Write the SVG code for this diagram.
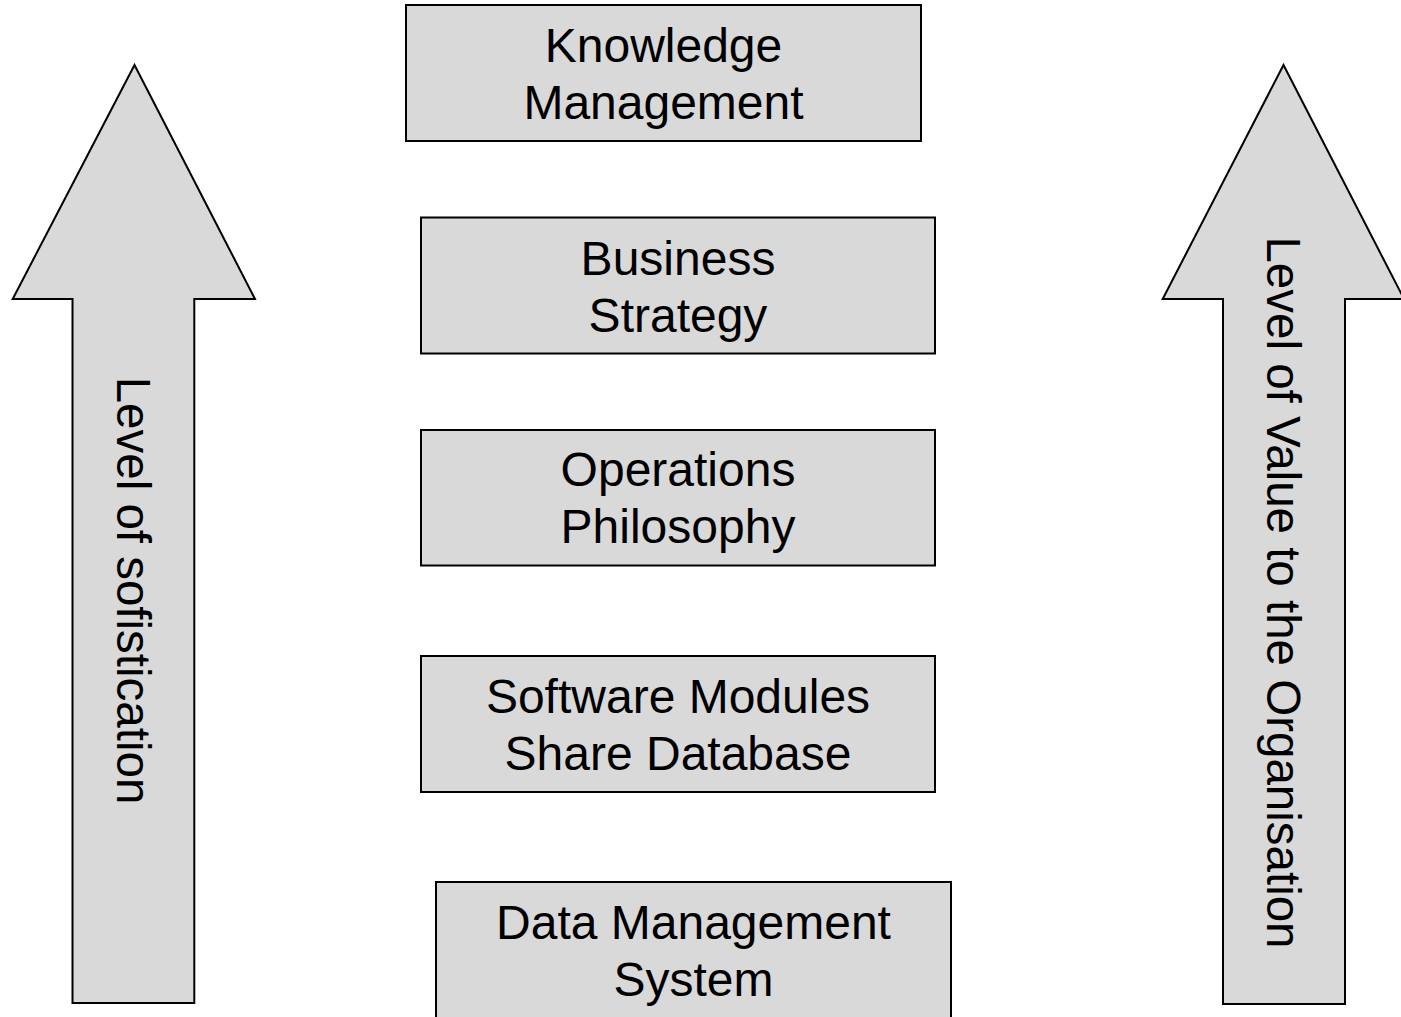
<svg xmlns="http://www.w3.org/2000/svg" width="1401" height="1017" viewBox="0 0 1401 1017">
<style>
.shape{fill:#d9d9d9;stroke:#000;stroke-width:2}
.lbl{font-family:"Liberation Sans",Arial,sans-serif;font-size:48px;fill:#000;text-anchor:middle}
.vlbl{font-family:"Liberation Sans",Arial,sans-serif;font-size:47.5px;fill:#000;text-anchor:middle}
</style>
<rect width="1401" height="1017" fill="#fff"/>
<g id="arrow-left">
<path class="shape" d="M134.5,65 L255,299 L194.3,299 L194.3,1003 L72.5,1003 L72.5,299 L12.7,299 Z"/>
<text class="vlbl" transform="translate(117,590.5) rotate(90)" x="0" y="0">Level of sofistication</text>
</g>
<g id="arrow-right">
<path class="shape" d="M1283.5,65 L1404,299 L1345,299 L1345,1004 L1223,1004 L1223,299 L1162.7,299 Z"/>
<text class="vlbl" transform="translate(1267,592.5) rotate(90)" x="0" y="0">Level of Value to the Organisation</text>
</g>
<g id="node-knowledge">
<rect class="shape" x="406" y="5" width="515" height="136"/>
<text class="lbl" x="663.5" y="61.5">Knowledge</text>
<text class="lbl" x="663.5" y="118.5">Management</text>
</g>
<g id="node-business">
<rect class="shape" x="421" y="217.5" width="514" height="136"/>
<text class="lbl" x="678" y="274.5">Business</text>
<text class="lbl" x="678" y="331.5">Strategy</text>
</g>
<g id="node-operations">
<rect class="shape" x="421" y="430" width="514" height="135.5"/>
<text class="lbl" x="678" y="486">Operations</text>
<text class="lbl" x="678" y="543">Philosophy</text>
</g>
<g id="node-software">
<rect class="shape" x="421" y="656" width="514" height="136"/>
<text class="lbl" x="678" y="712.5">Software Modules</text>
<text class="lbl" x="678" y="769.5">Share Database</text>
</g>
<g id="node-data">
<rect class="shape" x="436" y="882" width="515" height="137"/>
<text class="lbl" x="693.5" y="939">Data Management</text>
<text class="lbl" x="693.5" y="996">System</text>
</g>
<g id="connectors"></g>
</svg>
